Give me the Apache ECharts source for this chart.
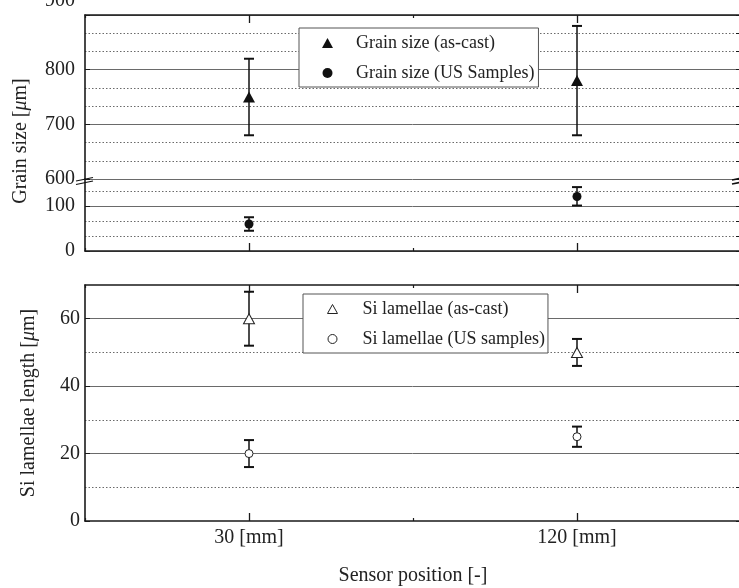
<!DOCTYPE html>
<html><head><meta charset="utf-8">
<style>html,body{margin:0;padding:0;background:#fff}#c{width:739px;height:588px}</style>
<script src="https://cdn.jsdelivr.net/npm/echarts@6/dist/echarts.min.js"></script>
</head><body><div id="c"></div>
<script>
// ---------- data ----------
const categories = ['30 [mm]', '120 [mm]'];
const grainAsCast = [750, 780];
const grainAsCastLow = [680, 680];
const grainAsCastHigh = [820, 880];
const grainUS = [60, 121];
const grainUSLow = [45, 101];
const grainUSHigh = [75, 142];
const siAsCast = [60, 50];
const siAsCastLow = [52, 46];
const siAsCastHigh = [68, 54];
const siUS = [20, 25];
const siUSLow = [16, 22];
const siUSHigh = [24, 28];
// axis ranges: [min, max, major interval]
const grainUpperAxis = [600, 900, 100];
const grainLowerAxis = [0, 160, 100];
const siAxis = [0, 70, 20];

const FONT = 'Liberation Serif';
const AX = '#1a1a1a';
const TXT = '#222';
const GRID_SOLID = '#6a6a6a';
const GRID_DOT = '#6a6a6a';
const MU_RICH = {i: {fontFamily: FONT, fontSize: 20, fontStyle: 'italic', color: TXT}};

const pts = vals => vals.map((v, i) => [i + 1, v]);
const errs = (lo, hi) => lo.map((l, i) => [i + 1, l, hi[i]]);

function errBar(params, api) {
  const x = api.value(0);
  const p1 = api.coord([x, api.value(1)]);
  const p2 = api.coord([x, api.value(2)]);
  const w = 5;
  return {
    type: 'group',
    children: [
      {type: 'line', shape: {x1: p1[0], y1: p1[1], x2: p2[0], y2: p2[1]}, style: {stroke: '#111', lineWidth: 1.5}},
      {type: 'line', shape: {x1: p1[0] - w, y1: p1[1], x2: p1[0] + w, y2: p1[1]}, style: {stroke: '#111', lineWidth: 2}},
      {type: 'line', shape: {x1: p2[0] - w, y1: p2[1], x2: p2[0] + w, y2: p2[1]}, style: {stroke: '#111', lineWidth: 2}}
    ]
  };
}

function xAx(grid, position, withLabels) {
  const a = {
    type: 'value', gridIndex: grid, position: position, min: 0.5, max: 2.5, interval: 1,
    axisLine: {show: true, onZero: false, lineStyle: {color: AX, width: 1.6}},
    axisTick: {show: true, inside: true, length: 3, lineStyle: {color: AX, width: 1.2}},
    minorTick: {show: true, splitNumber: 2, length: 8, lineStyle: {color: AX, width: 1.3}},
    splitLine: {show: false}, minorSplitLine: {show: false},
    axisLabel: {show: false}
  };
  if (withLabels) {
    a.axisLabel = {show: true, customValues: [1, 2], formatter: v => categories[Math.round(v) - 1] || '',
      fontFamily: FONT, fontSize: 20, color: TXT, margin: 7};
    a.name = 'Sensor position [-]';
    a.nameLocation = 'middle';
    a.nameGap = 45;
    a.nameTextStyle = {fontFamily: FONT, fontSize: 20, color: TXT};
  }
  return a;
}

function yMain(grid, r, labelMargin, extra) {
  return Object.assign({
    type: 'value', gridIndex: grid, position: 'left', min: r[0], max: r[1], interval: r[2],
    axisLine: {show: true, onZero: false, lineStyle: {color: AX, width: 1.6}},
    axisTick: {show: true, inside: true, length: 5, lineStyle: {color: AX, width: 1}},
    axisLabel: {show: true, fontFamily: FONT, fontSize: 20, color: TXT, margin: labelMargin},
    splitLine: {show: true, lineStyle: {color: GRID_SOLID, width: 1, type: 'solid'}}
  }, extra || {});
}

function yDot(grid, r, showMax) {
  return {
    type: 'value', gridIndex: grid, position: 'right', min: r[0], max: r[1], interval: r[2] / (r[2] === 20 ? 2 : 3),
    axisLine: {show: true, onZero: false, lineStyle: {color: AX, width: 1.6}},
    axisTick: {show: true, inside: true, length: 5, lineStyle: {color: AX, width: 1}},
    axisLabel: {show: false},
    splitLine: {show: true, showMaxLine: showMax, showMinLine: false, lineStyle: {color: GRID_DOT, width: 1, type: [1.5, 2]}}
  };
}

const option = {
  backgroundColor: '#fff',
  animation: false,
  grid: [
    {left: 85, top: 15, width: 656, height: 164, outerBoundsMode: 'none'},
    {left: 85, top: 179, width: 656, height: 72, outerBoundsMode: 'none'},
    {left: 85, top: 285, width: 656, height: 236, outerBoundsMode: 'none'}
  ],
  xAxis: [
    xAx(0, 'top', false),
    xAx(1, 'bottom', false),
    xAx(2, 'bottom', true),
    xAx(2, 'top', false)
  ],
  yAxis: [
    yMain(0, grainUpperAxis, 10, {
      axisLabel: {show: true, fontFamily: FONT, fontSize: 20, color: TXT, margin: 10,
        formatter: v => v === grainUpperAxis[1] ? '{u|' + v + '}' : String(v),
        rich: {u: {fontFamily: FONT, fontSize: 20, color: TXT, padding: [0, 0, 28, 0]}}}
    }),
    yDot(0, grainUpperAxis, false),
    yMain(1, grainLowerAxis, 10, {
      axisLabel: {show: true, fontFamily: FONT, fontSize: 20, color: TXT, margin: 10, showMaxLabel: false},
      splitLine: {show: true, showMaxLine: false, lineStyle: {color: GRID_SOLID, width: 1}}
    }),
    yDot(1, grainLowerAxis, false),
    yMain(2, siAxis, 5, {
      axisLabel: {show: true, fontFamily: FONT, fontSize: 20, color: TXT, margin: 5, showMaxLabel: false},
      splitLine: {show: true, showMaxLine: false, showMinLine: false, lineStyle: {color: GRID_SOLID, width: 1}},
      name: 'Si lamellae length [{i|\u03bc}m]', nameLocation: 'middle', nameGap: 46, nameRotate: 90,
      nameTextStyle: {fontFamily: FONT, fontSize: 20, color: TXT, rich: MU_RICH}
    }),
    yDot(2, siAxis, false)
  ],
  legend: [
    {
      left: 299, top: 28, orient: 'vertical', itemWidth: 11, itemHeight: 10, itemGap: 12,
      padding: [6, 4, 5, 23], borderColor: '#555', borderWidth: 1, backgroundColor: '#fff',
      textStyle: {fontFamily: FONT, fontSize: 18, color: TXT, padding: [0, 0, 0, 18]},
      selectedMode: false,
      data: [
        {name: 'Grain size (as-cast)', icon: 'triangle', itemStyle: {color: '#111', borderWidth: 0}},
        {name: 'Grain size (US Samples)', icon: 'circle', itemStyle: {color: '#111', borderWidth: 0}}
      ]
    },
    {
      left: 303, top: 294, orient: 'vertical', itemWidth: 10, itemHeight: 9, itemGap: 12,
      padding: [6, 3, 5, 24], borderColor: '#555', borderWidth: 1, backgroundColor: '#fff',
      textStyle: {fontFamily: FONT, fontSize: 18, color: TXT, padding: [0, 0, 0, 20]},
      selectedMode: false,
      data: [
        {name: 'Si lamellae (as-cast)', icon: 'triangle', itemStyle: {color: '#fff', borderColor: '#222', borderWidth: 1}},
        {name: 'Si lamellae (US samples)', icon: 'circle', itemStyle: {color: '#fff', borderColor: '#222', borderWidth: 1}}
      ]
    }
  ],
  series: [
    {type: 'custom', name: 'err1', xAxisIndex: 0, yAxisIndex: 0, renderItem: errBar, data: errs(grainAsCastLow, grainAsCastHigh), z: 3},
    {type: 'scatter', name: 'Grain size (as-cast)', xAxisIndex: 0, yAxisIndex: 0, symbol: 'triangle', symbolSize: [12, 11],
      itemStyle: {color: '#111', opacity: 1}, data: pts(grainAsCast), z: 4},
    {type: 'custom', name: 'err2', xAxisIndex: 1, yAxisIndex: 2, renderItem: errBar, data: errs(grainUSLow, grainUSHigh), z: 3},
    {type: 'scatter', name: 'Grain size (US Samples)', xAxisIndex: 1, yAxisIndex: 2, symbol: 'circle', symbolSize: 9,
      itemStyle: {color: '#111', opacity: 1}, data: pts(grainUS), z: 4},
    {type: 'custom', name: 'err3', xAxisIndex: 2, yAxisIndex: 4, renderItem: errBar, data: errs(siAsCastLow, siAsCastHigh), z: 3},
    {type: 'scatter', name: 'Si lamellae (as-cast)', xAxisIndex: 2, yAxisIndex: 4, symbol: 'triangle', symbolSize: [11, 10],
      itemStyle: {color: '#fff', borderColor: '#222', borderWidth: 1, opacity: 1}, data: pts(siAsCast), z: 4},
    {type: 'custom', name: 'err4', xAxisIndex: 2, yAxisIndex: 4, renderItem: errBar, data: errs(siUSLow, siUSHigh), z: 3},
    {type: 'scatter', name: 'Si lamellae (US samples)', xAxisIndex: 2, yAxisIndex: 4, symbol: 'circle', symbolSize: 8,
      itemStyle: {color: '#fff', borderColor: '#222', borderWidth: 1, opacity: 1}, data: pts(siUS), z: 4}
  ],
  graphic: [
    {type: 'text', x: 21, y: 141, rotation: Math.PI / 2,
      style: {text: 'Grain size [{i|\u03bc}m]', fontFamily: FONT, fontSize: 20, fill: TXT, align: 'center', verticalAlign: 'middle', rich: MU_RICH}},
    {type: 'line', shape: {x1: 76, y1: 181, x2: 93, y2: 177.5}, style: {stroke: '#111', lineWidth: 1.2}, z: 10},
    {type: 'line', shape: {x1: 76, y1: 184.5, x2: 93, y2: 181}, style: {stroke: '#111', lineWidth: 1.2}, z: 10},
    {type: 'line', shape: {x1: 732, y1: 180, x2: 740, y2: 178.5}, style: {stroke: '#111', lineWidth: 1.6}, z: 10},
    {type: 'line', shape: {x1: 732, y1: 184, x2: 740, y2: 182.5}, style: {stroke: '#111', lineWidth: 1.6}, z: 10}
  ]
};

const chart = echarts.init(document.getElementById('c'), null, {renderer: 'canvas'});
chart.setOption(option);
</script>
</body></html>
